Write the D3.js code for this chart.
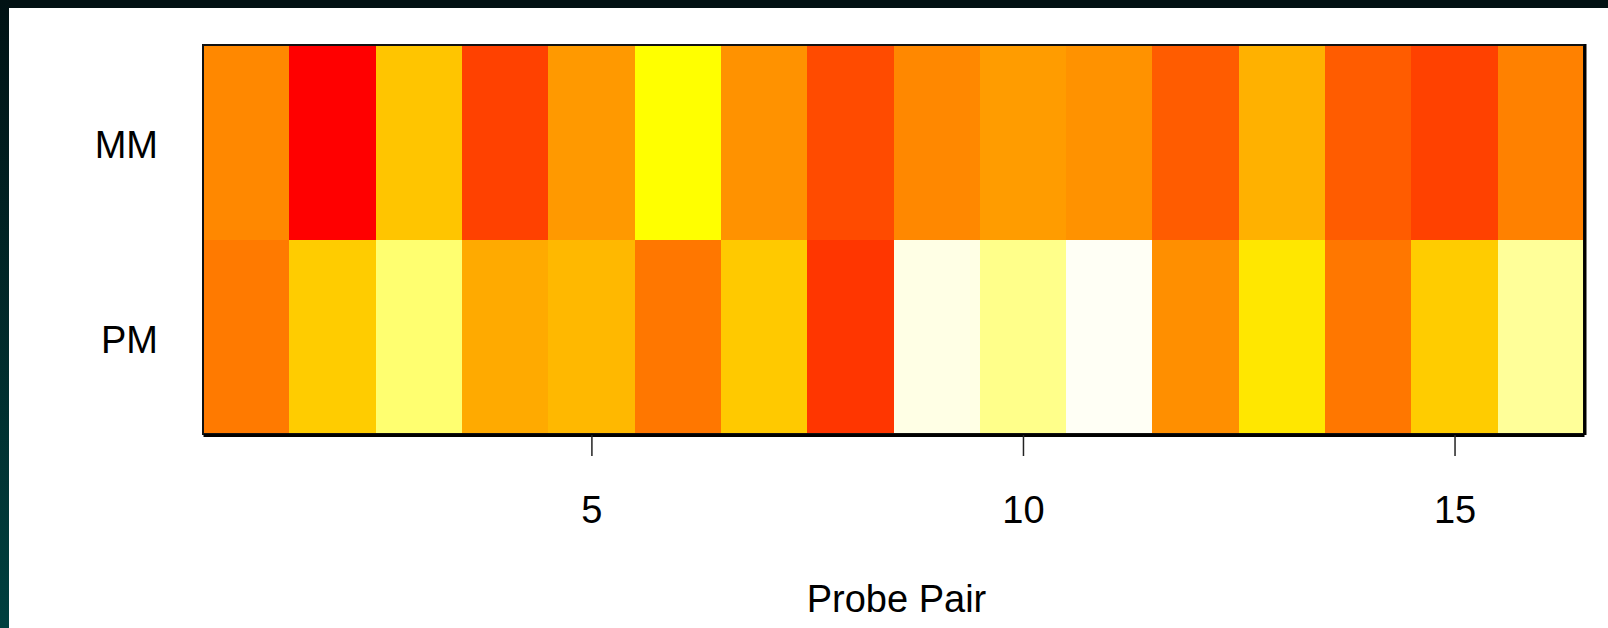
<!DOCTYPE html>
<html>
<head>
<meta charset="utf-8">
<script src="https://cdn.jsdelivr.net/npm/d3@7"></script>
<style>
  body { margin: 0; background: #fff; }
  text { font-family: "Liberation Sans", Arial, sans-serif; fill: #000; }
</style>
</head>
<body>
<div id="chart"></div>
<script>
// Probe pair intensities (scaled 0..1)
var probePairs = d3.range(1, 17);
var rowNames = ["MM", "PM"];
var mmValues = [0.40, 0.00, 0.58, 0.19, 0.45, 0.75, 0.43, 0.22, 0.40, 0.46, 0.43, 0.27, 0.52, 0.27, 0.19, 0.38];
var pmValues = [0.36, 0.60, 0.86, 0.50, 0.54, 0.35, 0.59, 0.16, 0.975, 0.885, 0.99, 0.42, 0.68, 0.35, 0.60, 0.90];
var xTicks = [5, 10, 15];
var xLabel = "Probe Pair";

var svgWidth = 1608;
var svgHeight = 628;

var margin = { top: 45, right: 24, bottom: 194, left: 203 };
var chartWidth = svgWidth - margin.left - margin.right;
var chartHeight = svgHeight - margin.top - margin.bottom;

var svg = d3.select("#chart")
  .append("svg")
  .attr("width", svgWidth)
  .attr("height", svgHeight);

// dark frame on top and left edges
var grad = svg.append("defs").append("linearGradient")
  .attr("id", "frame")
  .attr("x1", 0).attr("y1", 0).attr("x2", 0).attr("y2", 1);
grad.append("stop").attr("offset", "0%").attr("stop-color", "#011214");
grad.append("stop").attr("offset", "100%").attr("stop-color", "#00403f");
svg.append("rect").attr("x", 0).attr("y", 0).attr("width", svgWidth).attr("height", 8).attr("fill", "#021113");
svg.append("rect").attr("x", 0).attr("y", 0).attr("width", 9).attr("height", svgHeight).attr("fill", "url(#frame)");

var chartGroup = svg.append("g")
  .attr("transform", `translate(${margin.left}, ${margin.top})`);

// R heat.colors-like ramp: red -> yellow by hue, then yellow -> white by saturation
function heat(v) {
  if (v <= 0.75) return d3.hsl(60 * v / 0.75, 1, 0.5).formatHex();
  var s = 1 - (v - 0.75) / 0.25;
  return d3.rgb(255, 255, Math.round(255 * (1 - s))).formatHex();
}

var xScale = d3.scaleLinear()
  .domain([0.5, 16.5])
  .range([0, chartWidth]);

var yBand = d3.scaleBand()
  .domain(rowNames)
  .range([0, chartHeight]);

var cells = [];
probePairs.forEach(function(p, i) {
  cells.push({ pair: p, row: "MM", value: mmValues[i] });
  cells.push({ pair: p, row: "PM", value: pmValues[i] });
});

chartGroup.selectAll("rect.cell")
  .data(cells)
  .enter()
  .append("rect")
  .attr("class", "cell")
  .attr("x", d => xScale(d.pair - 0.5))
  .attr("y", d => yBand(d.row))
  .attr("width", d => xScale(d.pair + 0.5) - xScale(d.pair - 0.5))
  .attr("height", yBand.bandwidth())
  .attr("fill", d => heat(d.value))
  .attr("shape-rendering", "crispEdges");

// box
chartGroup.append("rect")
  .attr("width", chartWidth)
  .attr("height", chartHeight)
  .attr("fill", "none")
  .attr("stroke", "#111")
  .attr("stroke-width", 2);
chartGroup.append("line")
  .attr("x1", chartWidth + 1).attr("x2", chartWidth + 1)
  .attr("y1", -1).attr("y2", chartHeight + 1)
  .attr("stroke", "#000").attr("stroke-width", 3);

// bottom axis
var bottomAxis = d3.axisBottom(xScale)
  .tickValues(xTicks)
  .tickSize(21)
  .tickPadding(40)
  .tickSizeOuter(0);

var xAxisG = chartGroup.append("g")
  .attr("transform", `translate(0, ${chartHeight + 1})`)
  .call(bottomAxis);
xAxisG.select(".domain").attr("stroke", "#000").attr("stroke-width", 3);
xAxisG.selectAll(".tick line").attr("stroke", "#222").attr("stroke-width", 1.5);
xAxisG.selectAll(".tick text")
  .style("font-family", '"Liberation Sans", Arial, sans-serif')
  .style("font-size", "38px")
  .attr("fill", "#000");

// row labels
chartGroup.selectAll("text.rowlab")
  .data(rowNames)
  .enter()
  .append("text")
  .attr("class", "rowlab")
  .attr("x", -45)
  .attr("y", d => yBand(d) + yBand.bandwidth() / 2 + 16)
  .attr("text-anchor", "end")
  .style("font-size", "38px")
  .text(d => d);

// x label
chartGroup.append("text")
  .attr("x", chartWidth / 2 + 3)
  .attr("y", 612 - margin.top)
  .attr("text-anchor", "middle")
  .style("font-size", "38px")
  .text(xLabel);
</script>
</body>
</html>
